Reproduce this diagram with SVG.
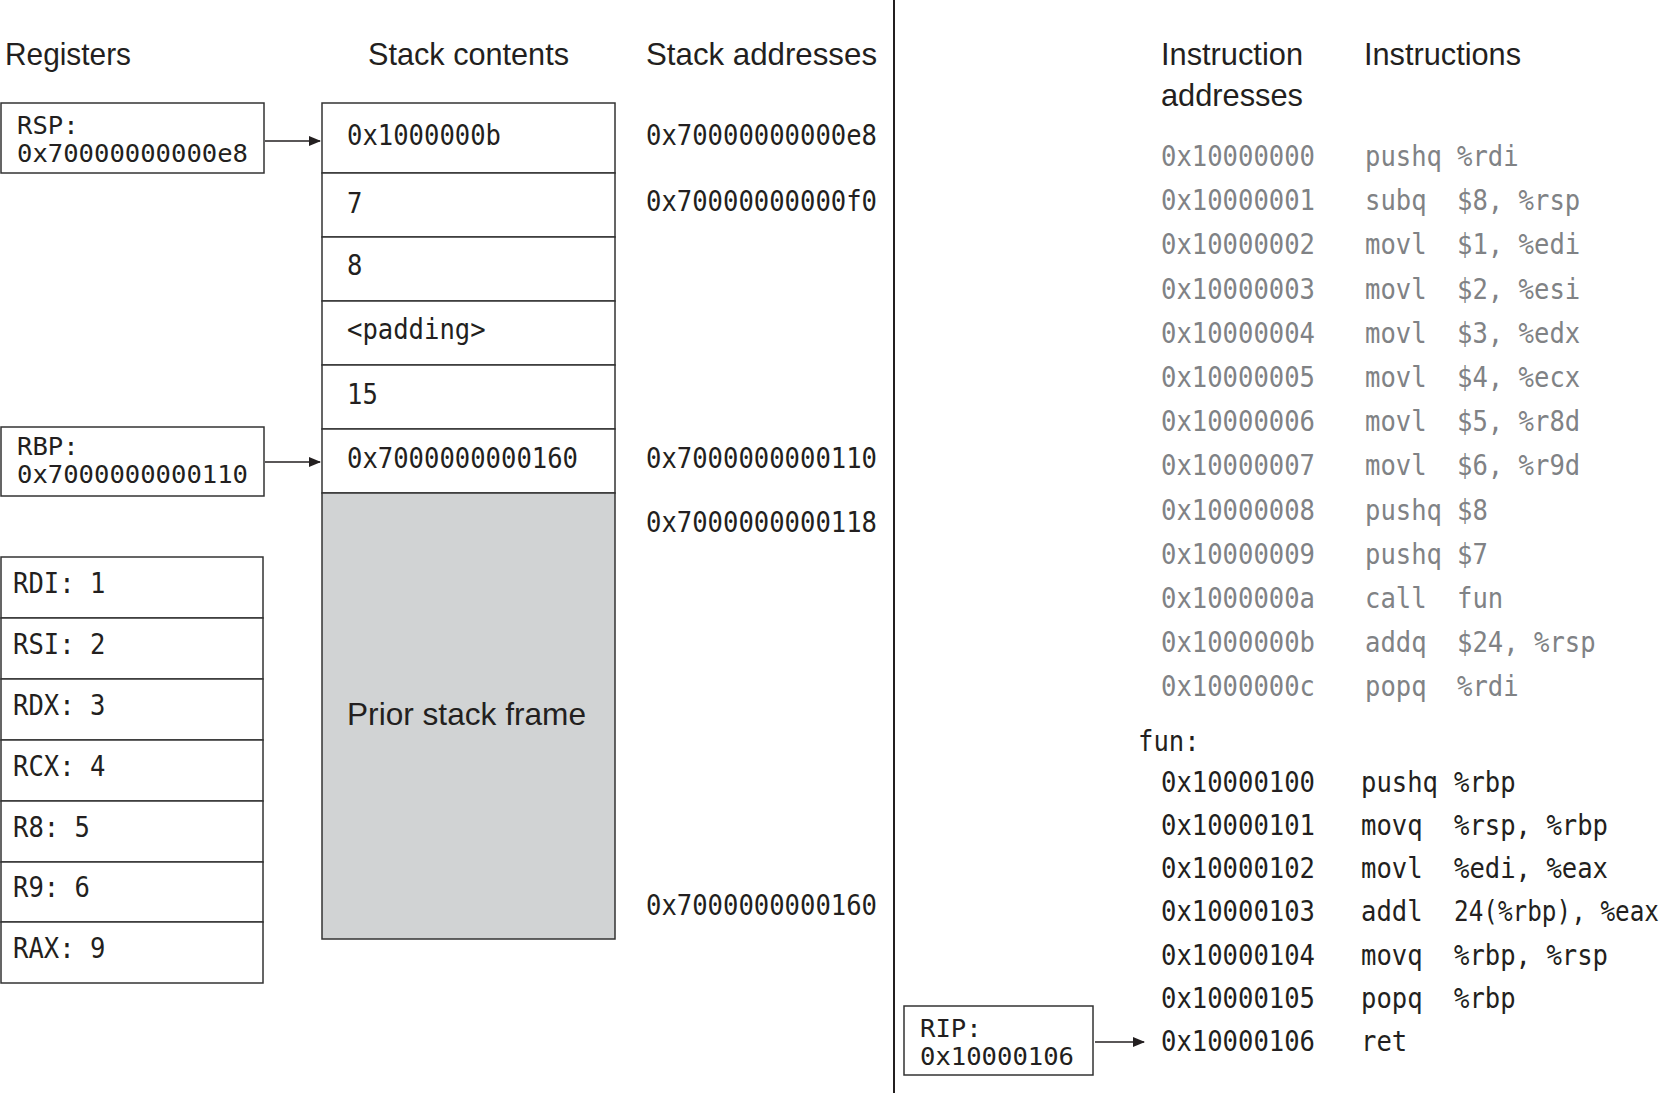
<svg xmlns="http://www.w3.org/2000/svg" width="1672" height="1095" viewBox="0 0 1672 1095">
<style>
.h{font-family:"Liberation Sans",Lato,sans-serif;font-size:32px;fill:#231f20}
.m{font-family:"DejaVu Sans Mono","Liberation Mono",monospace;font-size:28px;fill:#231f20}
.s{font-size:24px}
.g{fill:#808285}
.box{fill:#fff;stroke:#333;stroke-width:1.5}
.gray{fill:#d1d3d4;stroke:#333;stroke-width:1.5}
.ln{stroke:#231f20;stroke-width:1.5;fill:none}
</style>
<defs>
<marker id="ah" markerWidth="12" markerHeight="10" refX="11" refY="5" orient="auto" markerUnits="userSpaceOnUse">
<path d="M0,0 L12,5 L0,10 Z" fill="#231f20"/>
</marker>
</defs>
<rect width="1672" height="1095" fill="#fff"/>

<g id="headers">
<text class="h" x="5" y="65" textLength="126" lengthAdjust="spacingAndGlyphs">Registers</text>
<text class="h" x="368" y="65" textLength="201" lengthAdjust="spacingAndGlyphs">Stack contents</text>
<text class="h" x="646" y="65" textLength="231" lengthAdjust="spacingAndGlyphs">Stack addresses</text>
<text class="h" x="1161" y="65" textLength="142" lengthAdjust="spacingAndGlyphs">Instruction</text>
<text class="h" x="1161" y="106" textLength="142" lengthAdjust="spacingAndGlyphs">addresses</text>
<text class="h" x="1364" y="65" textLength="157" lengthAdjust="spacingAndGlyphs">Instructions</text>
</g>

<line id="divider" x1="894" y1="0" x2="894" y2="1093" stroke="#231f20" stroke-width="2"/>

<g id="rsp">
<rect class="box" x="1" y="103" width="263" height="70"/>
<text class="m s" x="17" y="134" textLength="61.6" lengthAdjust="spacingAndGlyphs">RSP:</text>
<text class="m s" x="17" y="162" textLength="231" lengthAdjust="spacingAndGlyphs">0x70000000000e8</text>
</g>
<g id="rbp">
<rect class="box" x="1" y="427" width="263" height="69"/>
<text class="m s" x="17" y="455" textLength="61.6" lengthAdjust="spacingAndGlyphs">RBP:</text>
<text class="m s" x="17" y="483" textLength="231" lengthAdjust="spacingAndGlyphs">0x7000000000110</text>
</g>

<g id="arg-registers">
<g id="rdi"><rect class="box" x="1" y="557" width="262" height="61"/><text class="m" x="13" y="593" textLength="92.4" lengthAdjust="spacingAndGlyphs">RDI: 1</text></g>
<g id="rsi"><rect class="box" x="1" y="618" width="262" height="61"/><text class="m" x="13" y="654" textLength="92.4" lengthAdjust="spacingAndGlyphs">RSI: 2</text></g>
<g id="rdx"><rect class="box" x="1" y="679" width="262" height="61"/><text class="m" x="13" y="715" textLength="92.4" lengthAdjust="spacingAndGlyphs">RDX: 3</text></g>
<g id="rcx"><rect class="box" x="1" y="740" width="262" height="61"/><text class="m" x="13" y="776" textLength="92.4" lengthAdjust="spacingAndGlyphs">RCX: 4</text></g>
<g id="r8"><rect class="box" x="1" y="801" width="262" height="61"/><text class="m" x="13" y="837" textLength="77" lengthAdjust="spacingAndGlyphs">R8: 5</text></g>
<g id="r9"><rect class="box" x="1" y="862" width="262" height="60"/><text class="m" x="13" y="897" textLength="77" lengthAdjust="spacingAndGlyphs">R9: 6</text></g>
<g id="rax"><rect class="box" x="1" y="922" width="262" height="61"/><text class="m" x="13" y="958" textLength="92.4" lengthAdjust="spacingAndGlyphs">RAX: 9</text></g>
</g>

<g id="stack">
<g id="slot-e8"><rect class="box" x="322" y="103" width="293" height="70"/><text class="m" x="347" y="145" textLength="154" lengthAdjust="spacingAndGlyphs">0x1000000b</text></g>
<g id="slot-f0"><rect class="box" x="322" y="173" width="293" height="64"/><text class="m" x="347" y="213" textLength="15.4" lengthAdjust="spacingAndGlyphs">7</text></g>
<g id="slot-f8"><rect class="box" x="322" y="237" width="293" height="64"/><text class="m" x="347" y="275" textLength="15.4" lengthAdjust="spacingAndGlyphs">8</text></g>
<g id="slot-100"><rect class="box" x="322" y="301" width="293" height="64"/><text class="m" x="347" y="339" textLength="138.6" lengthAdjust="spacingAndGlyphs">&lt;padding&gt;</text></g>
<g id="slot-108"><rect class="box" x="322" y="365" width="293" height="64"/><text class="m" x="347" y="404" textLength="30.8" lengthAdjust="spacingAndGlyphs">15</text></g>
<g id="slot-110"><rect class="box" x="322" y="429" width="293" height="64"/><text class="m" x="347" y="468" textLength="231" lengthAdjust="spacingAndGlyphs">0x7000000000160</text></g>
<g id="prior-frame"><rect class="gray" x="322" y="493" width="293" height="446"/><text class="h" x="347" y="725" textLength="239" lengthAdjust="spacingAndGlyphs">Prior stack frame</text></g>
</g>

<g id="stack-addresses">
<text class="m" x="646" y="145" textLength="231" lengthAdjust="spacingAndGlyphs">0x70000000000e8</text>
<text class="m" x="646" y="211" textLength="231" lengthAdjust="spacingAndGlyphs">0x70000000000f0</text>
<text class="m" x="646" y="468" textLength="231" lengthAdjust="spacingAndGlyphs">0x7000000000110</text>
<text class="m" x="646" y="532" textLength="231" lengthAdjust="spacingAndGlyphs">0x7000000000118</text>
<text class="m" x="646" y="915" textLength="231" lengthAdjust="spacingAndGlyphs">0x7000000000160</text>
</g>

<g id="main-code" class="g">
<text class="m g" x="1161" y="166" textLength="154" lengthAdjust="spacingAndGlyphs">0x10000000</text>
<text class="m g" x="1365" y="166" textLength="77" lengthAdjust="spacingAndGlyphs">pushq</text>
<text class="m g" x="1457" y="166" textLength="61.6" lengthAdjust="spacingAndGlyphs">%rdi</text>

<text class="m g" x="1161" y="210" textLength="154" lengthAdjust="spacingAndGlyphs">0x10000001</text>
<text class="m g" x="1365" y="210" textLength="61.6" lengthAdjust="spacingAndGlyphs">subq</text>
<text class="m g" x="1457" y="210" textLength="123.2" lengthAdjust="spacingAndGlyphs">$8, %rsp</text>

<text class="m g" x="1161" y="254" textLength="154" lengthAdjust="spacingAndGlyphs">0x10000002</text>
<text class="m g" x="1365" y="254" textLength="61.6" lengthAdjust="spacingAndGlyphs">movl</text>
<text class="m g" x="1457" y="254" textLength="123.2" lengthAdjust="spacingAndGlyphs">$1, %edi</text>

<text class="m g" x="1161" y="299" textLength="154" lengthAdjust="spacingAndGlyphs">0x10000003</text>
<text class="m g" x="1365" y="299" textLength="61.6" lengthAdjust="spacingAndGlyphs">movl</text>
<text class="m g" x="1457" y="299" textLength="123.2" lengthAdjust="spacingAndGlyphs">$2, %esi</text>

<text class="m g" x="1161" y="343" textLength="154" lengthAdjust="spacingAndGlyphs">0x10000004</text>
<text class="m g" x="1365" y="343" textLength="61.6" lengthAdjust="spacingAndGlyphs">movl</text>
<text class="m g" x="1457" y="343" textLength="123.2" lengthAdjust="spacingAndGlyphs">$3, %edx</text>

<text class="m g" x="1161" y="387" textLength="154" lengthAdjust="spacingAndGlyphs">0x10000005</text>
<text class="m g" x="1365" y="387" textLength="61.6" lengthAdjust="spacingAndGlyphs">movl</text>
<text class="m g" x="1457" y="387" textLength="123.2" lengthAdjust="spacingAndGlyphs">$4, %ecx</text>

<text class="m g" x="1161" y="431" textLength="154" lengthAdjust="spacingAndGlyphs">0x10000006</text>
<text class="m g" x="1365" y="431" textLength="61.6" lengthAdjust="spacingAndGlyphs">movl</text>
<text class="m g" x="1457" y="431" textLength="123.2" lengthAdjust="spacingAndGlyphs">$5, %r8d</text>

<text class="m g" x="1161" y="475" textLength="154" lengthAdjust="spacingAndGlyphs">0x10000007</text>
<text class="m g" x="1365" y="475" textLength="61.6" lengthAdjust="spacingAndGlyphs">movl</text>
<text class="m g" x="1457" y="475" textLength="123.2" lengthAdjust="spacingAndGlyphs">$6, %r9d</text>

<text class="m g" x="1161" y="520" textLength="154" lengthAdjust="spacingAndGlyphs">0x10000008</text>
<text class="m g" x="1365" y="520" textLength="77" lengthAdjust="spacingAndGlyphs">pushq</text>
<text class="m g" x="1457" y="520" textLength="30.8" lengthAdjust="spacingAndGlyphs">$8</text>

<text class="m g" x="1161" y="564" textLength="154" lengthAdjust="spacingAndGlyphs">0x10000009</text>
<text class="m g" x="1365" y="564" textLength="77" lengthAdjust="spacingAndGlyphs">pushq</text>
<text class="m g" x="1457" y="564" textLength="30.8" lengthAdjust="spacingAndGlyphs">$7</text>

<text class="m g" x="1161" y="608" textLength="154" lengthAdjust="spacingAndGlyphs">0x1000000a</text>
<text class="m g" x="1365" y="608" textLength="61.6" lengthAdjust="spacingAndGlyphs">call</text>
<text class="m g" x="1457" y="608" textLength="46.2" lengthAdjust="spacingAndGlyphs">fun</text>

<text class="m g" x="1161" y="652" textLength="154" lengthAdjust="spacingAndGlyphs">0x1000000b</text>
<text class="m g" x="1365" y="652" textLength="61.6" lengthAdjust="spacingAndGlyphs">addq</text>
<text class="m g" x="1457" y="652" textLength="138.6" lengthAdjust="spacingAndGlyphs">$24, %rsp</text>

<text class="m g" x="1161" y="696" textLength="154" lengthAdjust="spacingAndGlyphs">0x1000000c</text>
<text class="m g" x="1365" y="696" textLength="61.6" lengthAdjust="spacingAndGlyphs">popq</text>
<text class="m g" x="1457" y="696" textLength="61.6" lengthAdjust="spacingAndGlyphs">%rdi</text>
</g>

<g id="fun-code">
<text class="m" x="1138" y="751" textLength="61.6" lengthAdjust="spacingAndGlyphs">fun:</text>

<text class="m" x="1161" y="792" textLength="154" lengthAdjust="spacingAndGlyphs">0x10000100</text>
<text class="m" x="1361" y="792" textLength="77" lengthAdjust="spacingAndGlyphs">pushq</text>
<text class="m" x="1454" y="792" textLength="61.6" lengthAdjust="spacingAndGlyphs">%rbp</text>

<text class="m" x="1161" y="835" textLength="154" lengthAdjust="spacingAndGlyphs">0x10000101</text>
<text class="m" x="1361" y="835" textLength="61.6" lengthAdjust="spacingAndGlyphs">movq</text>
<text class="m" x="1454" y="835" textLength="154" lengthAdjust="spacingAndGlyphs">%rsp, %rbp</text>

<text class="m" x="1161" y="878" textLength="154" lengthAdjust="spacingAndGlyphs">0x10000102</text>
<text class="m" x="1361" y="878" textLength="61.6" lengthAdjust="spacingAndGlyphs">movl</text>
<text class="m" x="1454" y="878" textLength="154" lengthAdjust="spacingAndGlyphs">%edi, %eax</text>

<text class="m" x="1161" y="921" textLength="154" lengthAdjust="spacingAndGlyphs">0x10000103</text>
<text class="m" x="1361" y="921" textLength="61.6" lengthAdjust="spacingAndGlyphs">addl</text>
<text class="m" x="1454" y="921" textLength="205" lengthAdjust="spacingAndGlyphs">24(%rbp), %eax</text>

<text class="m" x="1161" y="965" textLength="154" lengthAdjust="spacingAndGlyphs">0x10000104</text>
<text class="m" x="1361" y="965" textLength="61.6" lengthAdjust="spacingAndGlyphs">movq</text>
<text class="m" x="1454" y="965" textLength="154" lengthAdjust="spacingAndGlyphs">%rbp, %rsp</text>

<text class="m" x="1161" y="1008" textLength="154" lengthAdjust="spacingAndGlyphs">0x10000105</text>
<text class="m" x="1361" y="1008" textLength="61.6" lengthAdjust="spacingAndGlyphs">popq</text>
<text class="m" x="1454" y="1008" textLength="61.6" lengthAdjust="spacingAndGlyphs">%rbp</text>

<text class="m" x="1161" y="1051" textLength="154" lengthAdjust="spacingAndGlyphs">0x10000106</text>
<text class="m" x="1361" y="1051" textLength="46.2" lengthAdjust="spacingAndGlyphs">ret</text>
</g>

<g id="rip">
<rect class="box" x="904" y="1006" width="189" height="69"/>
<text class="m s" x="920" y="1037" textLength="61.6" lengthAdjust="spacingAndGlyphs">RIP:</text>
<text class="m s" x="920" y="1065" textLength="154" lengthAdjust="spacingAndGlyphs">0x10000106</text>
</g>

<g id="connectors">
<line class="ln" x1="265" y1="141" x2="320" y2="141" marker-end="url(#ah)"/>
<line class="ln" x1="265" y1="462" x2="320" y2="462" marker-end="url(#ah)"/>
<line class="ln" x1="1095" y1="1042" x2="1144" y2="1042" marker-end="url(#ah)"/>
</g>
</svg>
